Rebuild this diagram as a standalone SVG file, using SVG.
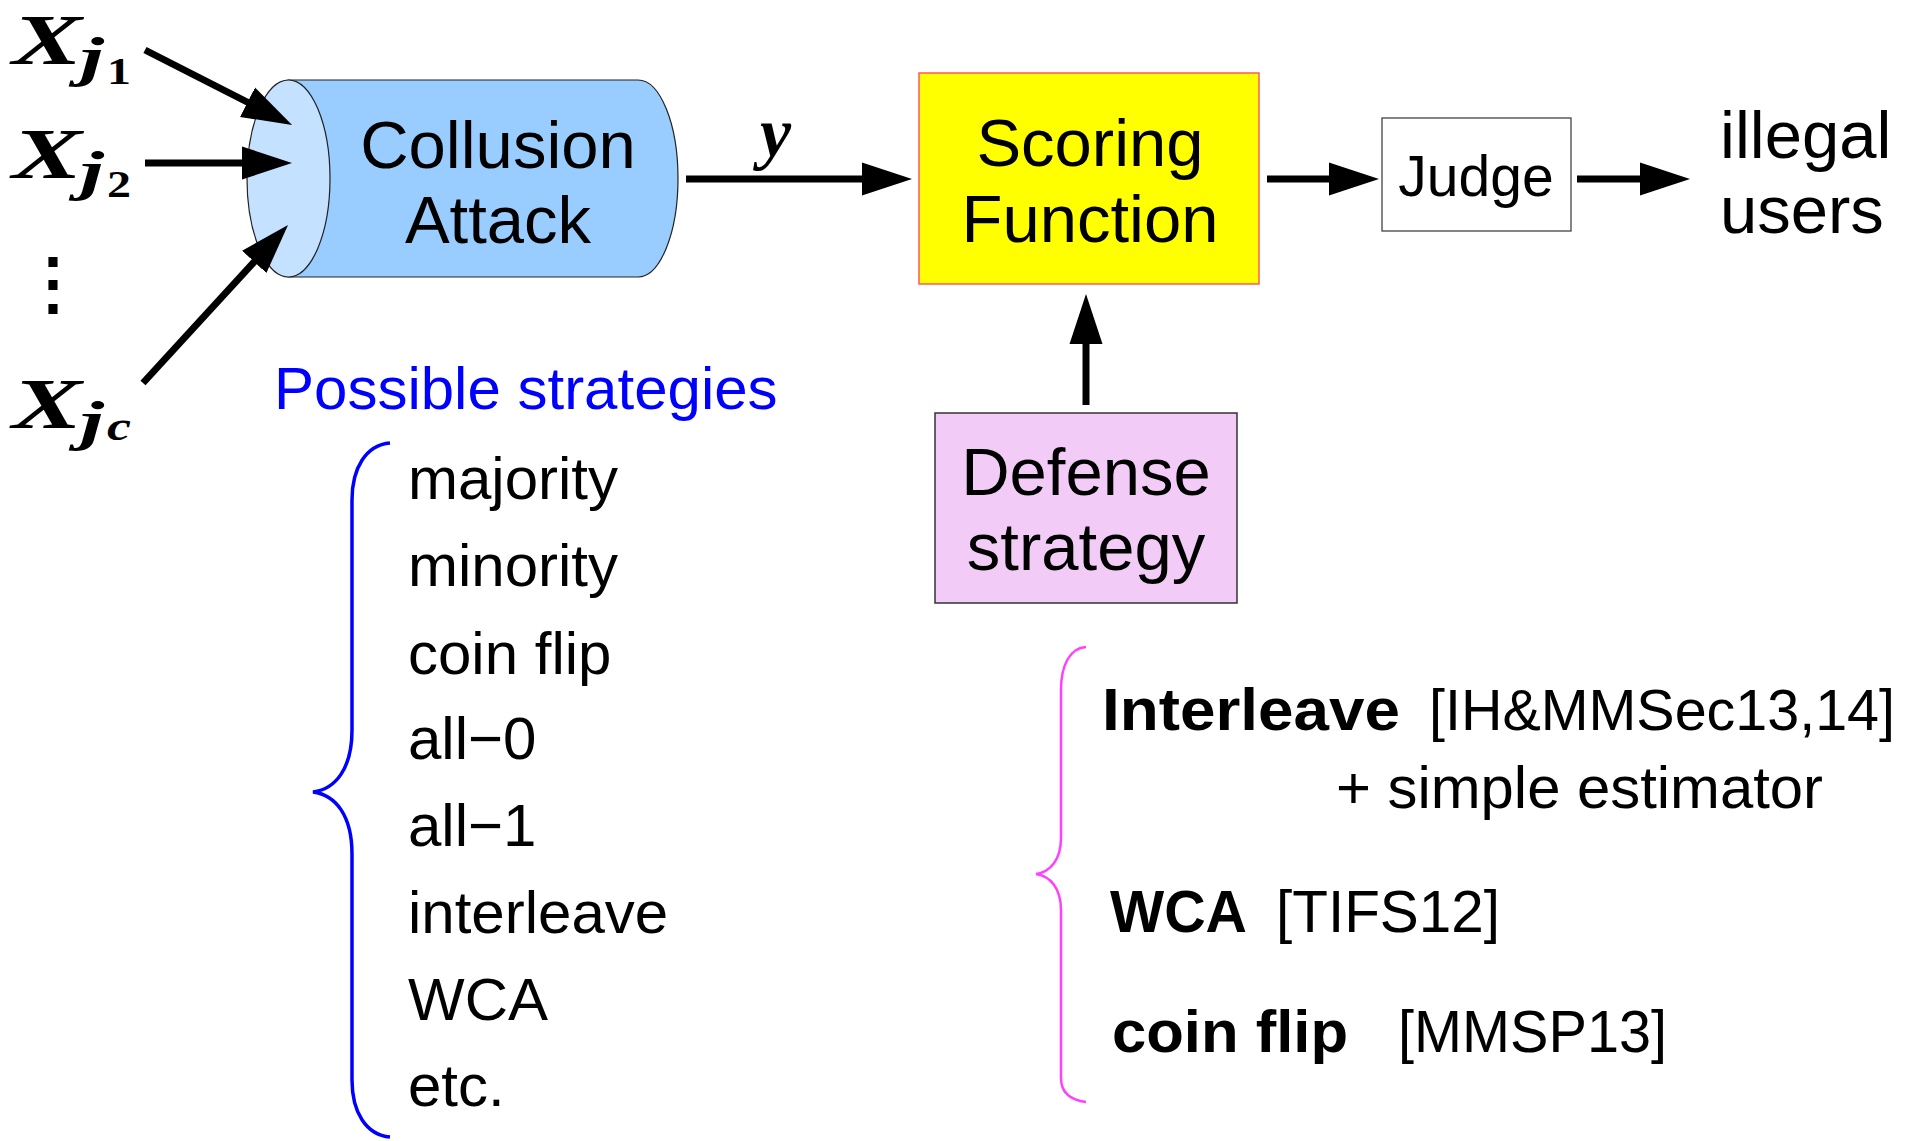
<svg xmlns="http://www.w3.org/2000/svg" width="1911" height="1141" viewBox="0 0 1911 1141">
<style>
text{font-family:"Liberation Sans",Arial,sans-serif;fill:#000}
.lbl{font-size:67px}
.math{font-family:"Liberation Serif","Times New Roman",serif;font-weight:bold;font-style:italic}
.sub1{font-family:"Liberation Serif","Times New Roman",serif;font-weight:bold}
.item{font-size:60px}
.b{font-weight:bold}
.arrow{stroke:#000;stroke-width:7;fill:none;marker-end:url(#ah)}
</style>
<defs>
<marker id="ah" markerUnits="userSpaceOnUse" markerWidth="50" markerHeight="34" refX="5" refY="16.5" orient="auto" viewBox="0 0 50 33">
<path d="M0,0 L50,16.5 L0,33 Z" fill="#000"/>
</marker>
</defs>
<rect width="1911" height="1141" fill="#fff"/>

<g id="inputs">
<text class="math" x="12" y="64" font-size="72" textLength="70" lengthAdjust="spacingAndGlyphs">X</text>
<text class="math" x="80" y="75" font-size="54" textLength="24" lengthAdjust="spacingAndGlyphs">j</text>
<text class="sub1" x="107" y="84" font-size="38" textLength="24" lengthAdjust="spacingAndGlyphs">1</text>
<text class="math" x="12" y="178" font-size="72" textLength="70" lengthAdjust="spacingAndGlyphs">X</text>
<text class="math" x="80" y="189" font-size="54" textLength="24" lengthAdjust="spacingAndGlyphs">j</text>
<text class="sub1" x="107" y="197" font-size="38" textLength="24" lengthAdjust="spacingAndGlyphs">2</text>
<text x="53" y="307" font-size="68" font-weight="bold" text-anchor="middle" font-family="DejaVu Sans,sans-serif">⋮</text>
<text class="math" x="12" y="428" font-size="72" textLength="70" lengthAdjust="spacingAndGlyphs">X</text>
<text class="math" x="80" y="439" font-size="54" textLength="24" lengthAdjust="spacingAndGlyphs">j</text>
<text class="math" x="107" y="440" font-size="42" textLength="24" lengthAdjust="spacingAndGlyphs">c</text>
</g>

<g id="collusion">
<path d="M288,80 L638,80 A40,98.5 0 0 1 638,277 L288,277 Z" fill="#99CCFF" stroke="#222" stroke-width="1.2"/>
<ellipse cx="288.5" cy="178.5" rx="41.5" ry="98.5" fill="#C4E1FF" stroke="#222" stroke-width="1.2"/>
<text class="lbl" x="498" y="168" text-anchor="middle" font-size="68">Collusion</text>
<text class="lbl" x="498" y="243" text-anchor="middle" font-size="68">Attack</text>
</g>

<g id="y-label">
<text class="math" x="760" y="156" font-size="70">y</text>
</g>

<g id="scoring">
<rect x="919" y="73" width="340" height="211" fill="#FFFF00" stroke="#FF5A5A" stroke-width="1.5"/>
<text class="lbl" x="1090" y="166" text-anchor="middle">Scoring</text>
<text class="lbl" x="1090" y="242" text-anchor="middle">Function</text>
</g>

<g id="judge">
<rect x="1382" y="118" width="189" height="113" fill="#fff" stroke="#444" stroke-width="1.3"/>
<text x="1476" y="196" text-anchor="middle" font-size="57">Judge</text>
</g>

<g id="output">
<text x="1720" y="158" font-size="67">illegal</text>
<text x="1720" y="233" font-size="67">users</text>
</g>

<g id="defense">
<rect x="935" y="413" width="302" height="190" fill="#F2CCF7" stroke="#333" stroke-width="1.5"/>
<text class="lbl" x="1086" y="495" text-anchor="middle">Defense</text>
<text class="lbl" x="1086" y="570" text-anchor="middle">strategy</text>
</g>

<g id="connectors">
<line class="arrow" x1="145" y1="50" x2="252" y2="104.5"/>
<line class="arrow" x1="145" y1="163" x2="247" y2="163"/>
<line class="arrow" x1="143" y1="383" x2="257.6" y2="258.2"/>
<line class="arrow" x1="686" y1="179" x2="867" y2="179"/>
<line class="arrow" x1="1267" y1="179" x2="1334" y2="179"/>
<line class="arrow" x1="1577" y1="179" x2="1645" y2="179"/>
<line class="arrow" x1="1086" y1="405" x2="1086" y2="339"/>
</g>

<g id="attack-strategies">
<text class="item" x="274" y="409" style="fill:#0000FF">Possible strategies</text>
<path d="M390,443 C366,445 352,468 352,500 L352,730 C352,768 336,789 313,792 C336,795 352,816 352,854 L352,1080 C352,1112 366,1135 390,1137" fill="none" stroke="#0000FF" stroke-width="3.5"/>
<text class="item" x="408" y="499">majority</text>
<text class="item" x="408" y="586">minority</text>
<text class="item" x="408" y="674">coin flip</text>
<text class="item" x="408" y="759">all−0</text>
<text class="item" x="408" y="846">all−1</text>
<text class="item" x="408" y="933">interleave</text>
<text class="item" x="408" y="1020">WCA</text>
<text class="item" x="408" y="1106">etc.</text>
</g>

<g id="defense-strategies">
<path d="M1086,647 C1070,648 1061,665 1061,690 L1061,838 C1061,860 1050,872 1036,874 C1050,876 1061,888 1061,910 L1061,1078 C1061,1092 1070,1100 1086,1102" fill="none" stroke="#FF40FF" stroke-width="2.5"/>
<text class="item b" x="1102" y="730" textLength="298" lengthAdjust="spacingAndGlyphs">Interleave</text>
<text class="item" x="1429" y="730" style="font-size:57px" textLength="466" lengthAdjust="spacingAndGlyphs">[IH&amp;MMSec13,14]</text>
<text class="item" x="1336" y="808" textLength="487" lengthAdjust="spacingAndGlyphs">+ simple estimator</text>
<text class="item b" x="1110" y="932" textLength="137" lengthAdjust="spacingAndGlyphs">WCA</text>
<text class="item" x="1276" y="932" textLength="224" lengthAdjust="spacingAndGlyphs">[TIFS12]</text>
<text class="item b" x="1112" y="1052" textLength="236" lengthAdjust="spacingAndGlyphs">coin flip</text>
<text class="item" x="1398" y="1052" textLength="269" lengthAdjust="spacingAndGlyphs">[MMSP13]</text>
</g>
</svg>
